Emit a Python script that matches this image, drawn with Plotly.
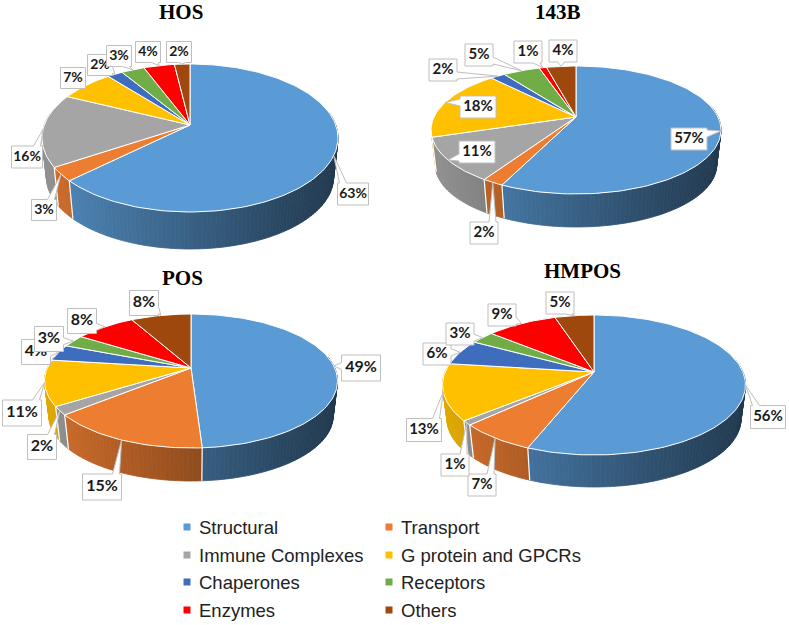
import math
import plotly.graph_objects as go

categories = ["Structural", "Transport", "Immune Complexes", "G protein and GPCRs",
              "Chaperones", "Receptors", "Enzymes", "Others"]
hos_values = [63, 3, 16, 7, 2, 3, 4, 2]
b143_values = [57, 2, 11, 18, 2, 5, 1, 4]
pos_values = [49, 15, 2, 11, 4, 3, 8, 8]
hmpos_values = [56, 7, 1, 13, 6, 3, 9, 5]
colors = ["#5B9BD5", "#ED7D31", "#A5A5A5", "#FFC000", "#3F6DBE", "#70AD47", "#FF0000", "#9E480E"]

# Page layout, in page pixels: geometry of every pie, its title and its label boxes
pies = [
    dict(title="HOS", values=hos_values, cx=190, cy=125, up=61, down=87, rx=148, thick=37, font=14,
         wall_end=280, box3=(31, 22), box2=(25, 21), tx=181, ty=12,
         labels=[(353, 194), (44, 210), (27, 157), (73, 78), (100, 65), (119, 56), (148, 52), (179, 52)]),
    dict(title="143B", values=b143_values, cx=576, cy=117, up=51, down=77, rx=145, thick=33, font=15,
         wall_end=252, box3=(36, 22), box2=(28, 22), tx=558, ty=12,
         labels=[(689, 139), (484, 233), (477, 152), (478, 107), (443, 70), (479, 55), (528, 52), (563, 51)]),
    dict(title="POS", values=pos_values, cx=191, cy=368, up=54, down=80, rx=146.5, thick=33, font=16,
         wall_end=280, box3=(39, 26), box2=(29, 25), tx=182, ty=278,
         labels=[(361, 368), (102, 487), (42, 447), (22, 413), (36, 352), (49, 339), (82, 321), (144, 303)]),
    dict(title="HMPOS", values=hmpos_values, cx=594, cy=372, up=57, down=83, rx=151.5, thick=32, font=15,
         wall_end=280, box3=(35, 23), box2=(28, 22), tx=582, ty=271,
         labels=[(768, 417), (482, 485), (455, 465), (424, 430), (437, 354), (460, 334), (502, 315), (560, 303)]),
]
legend_cols = (187, 389)
legend_rows = (527, 555, 582, 610)
WALL_SCALE = 0.97
STEP = 1.5


def shade(hex_color, f):
    r, g, b = (int(hex_color[i:i + 2], 16) for i in (1, 3, 5))
    return f"rgb({int(r * f)},{int(g * f)},{int(b * f)})"


def projector(p):
    ratio = p["down"] / p["up"]
    k = (ratio - 1) / (ratio + 1)
    b = p["up"] * (1 + k)
    a = p["rx"] * math.sqrt(1 - k * k)
    offset = p["down"] + p["thick"] - WALL_SCALE * p["down"]

    def top(deg, r=1.0):
        t = math.radians(deg)
        X, Y = r * math.sin(t), r * math.cos(t)
        w = 1 + k * Y
        return p["cx"] + a * X / w, p["cy"] - b * Y / w

    def low(deg):
        x, y = top(deg)
        return p["cx"] + WALL_SCALE * (x - p["cx"]), p["cy"] + WALL_SCALE * (y - p["cy"]) + offset

    return top, low


def poly(xs, ys, fill, line, width, name=None):
    return go.Scatter(x=xs, y=ys, mode="lines", fill="toself", fillcolor=fill,
                      line=dict(color=line, width=width), hoverinfo="skip",
                      showlegend=False, name=name)


def callout(cx, cy, w, h, tip):
    l, r, t, b = cx - w / 2, cx + w / 2, cy - h / 2, cy + h / 2
    tx, ty = tip
    hw = 3.5
    px = [l, r, r, l, l]
    py = [t, t, b, b, t]
    dx = 0 if l <= tx <= r else (tx - r if tx > r else tx - l)
    dy = 0 if t <= ty <= b else (ty - b if ty > b else ty - t)
    if dx == 0 and dy == 0:
        return px, py
    if abs(dy) >= abs(dx):
        bx = min(max(tx, l + hw + 2), r - hw - 2)
        if dy < 0:
            return [l, bx - hw, tx, bx + hw, r, r, l, l], [t, t, ty, t, t, b, b, t]
        return [l, r, r, bx + hw, tx, bx - hw, l, l], [t, t, b, b, ty, b, b, t]
    by = min(max(ty, t + hw + 2), b - hw - 2)
    if dx > 0:
        return [l, r, r, tx, r, r, l, l], [t, t, by - hw, ty, by + hw, b, b, t]
    return [l, r, r, l, l, tx, l, l], [t, t, b, b, by + hw, ty, by - hw, t]


fig = go.Figure()
annotations = []

for p in pies:
    top, low = projector(p)
    vals = p["values"]
    total = sum(vals)
    edges = [0.0]
    for v in vals:
        edges.append(edges[-1] + 360.0 * v / total)
    left, span = p["cx"] - p["rx"], 2 * p["rx"]

    # side wall
    for i, col in enumerate(colors):
        a0, a1 = max(edges[i], 80), min(edges[i + 1], p["wall_end"])
        if a1 <= a0:
            continue
        n = max(1, int(math.ceil((a1 - a0) / STEP)))
        for j in range(n):
            s0 = a0 + (a1 - a0) * j / n
            s1 = a0 + (a1 - a0) * (j + 1) / n
            x0, y0 = top(s0)
            x1, y1 = top(s1)
            x2, y2 = low(s1)
            x3, y3 = low(s0)
            f = 0.88 - 0.51 * ((x0 + x1) / 2 - left) / span
            c = shade(col, f)
            fig.add_trace(poly([x0, x1, x2, x3, x0], [y0, y1, y2, y3, y0], c, c, 0.8))
    # wall separators
    for e in edges[1:-1]:
        if 100 < e < 252:
            x0, y0 = top(e)
            x1, y1 = low(e)
            fig.add_trace(go.Scatter(x=[x0, x1], y=[y0, y1], mode="lines",
                                     line=dict(color="#ffffff", width=1.2),
                                     hoverinfo="skip", showlegend=False))
    # top face
    for i, col in enumerate(colors):
        n = max(2, int((edges[i + 1] - edges[i]) / 1.5) + 1)
        pts = [top(edges[i] + (edges[i + 1] - edges[i]) * j / n) for j in range(n + 1)]
        xs = [p["cx"]] + [q[0] for q in pts] + [p["cx"]]
        ys = [p["cy"]] + [q[1] for q in pts] + [p["cy"]]
        fig.add_trace(poly(xs, ys, col, "#ffffff", 1, name=categories[i]))
    # callouts
    for i, (bx, by) in enumerate(p["labels"]):
        label = f"{vals[i]}%"
        w, h = p["box3"] if len(label) == 3 else p["box2"]
        tip = top((edges[i] + edges[i + 1]) / 2)
        xs, ys = callout(bx, by, w, h, tip)
        fig.add_trace(poly(xs, ys, "#ffffff", "#BFBFBF", 1))
        fig.add_trace(go.Scatter(x=[bx], y=[by], mode="text", text=[label],
                                 textposition="middle center",
                                 textfont=dict(family="Lato", size=p["font"], color="#1a1a1a", weight=700),
                                 hoverinfo="skip", showlegend=False))
    annotations.append(dict(x=p["tx"], y=p["ty"], text=f"<b>{p['title']}</b>", showarrow=False,
                            xanchor="center", yanchor="middle",
                            font=dict(family="Liberation Serif", size=21, color="#000000")))

# legend
for i, name in enumerate(categories):
    x = legend_cols[i % 2]
    y = legend_rows[i // 2]
    fig.add_trace(go.Scatter(x=[x], y=[y], mode="markers", name=name,
                             marker=dict(symbol="square", size=7, color=colors[i]),
                             hoverinfo="skip", showlegend=False))
    annotations.append(dict(x=x + 10, y=y, text=name, showarrow=False, xanchor="left", yanchor="middle",
                            font=dict(family="Liberation Sans", size=18.5, color="#222222")))

fig.update_layout(
    width=789, height=625, margin=dict(l=0, r=0, t=0, b=0),
    paper_bgcolor="#ffffff", plot_bgcolor="#ffffff", showlegend=False,
    xaxis=dict(range=[0, 789], visible=False, fixedrange=True),
    yaxis=dict(range=[625, 0], visible=False, fixedrange=True),
    annotations=annotations,
)
fig.write_html("out.html", config={"displayModeBar": False},
               post_script="document.body.style.margin='0';")
